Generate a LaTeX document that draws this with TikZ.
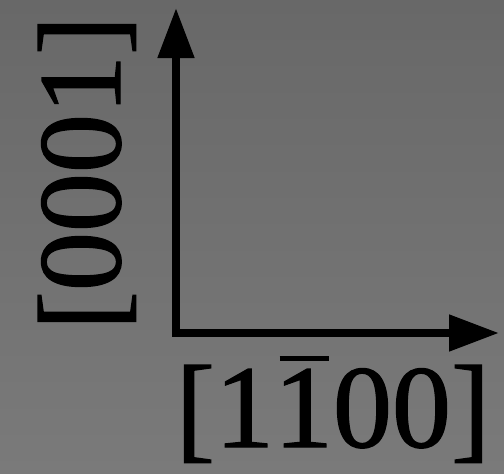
\documentclass[tikz,border=0pt]{standalone}
\usepackage{fontspec}
\newfontfamily\timesf[FakeBold=1.2]{Liberation Serif}
\usetikzlibrary{arrows.meta}
\definecolor{bgtop}{RGB}{104,104,104}
\definecolor{bgbot}{RGB}{122,122,122}
\newcommand\barone{\rlap{\hspace{0.047em}\raisebox{0.73em}{\rule{0.415em}{0.04em}}}1}
\tikzset{
  axis/.style={line width=8pt, black, -{Triangle[length=50pt,width=35pt]}},
  axlabel/.style={font=\timesf\fontsize{118}{120}\selectfont, inner sep=0pt, anchor=base, text=black}
}
\begin{document}
\begin{tikzpicture}[x=1pt,y=1pt]
\useasboundingbox (0,0) rectangle (504,-474);
\shade[top color=bgtop, bottom color=bgbot] (0,0) rectangle (504,-474);
\coordinate (o) at (172,-333);
\coordinate (ytip) at (176,-8);
\coordinate (xtip) at (499,-333);
\draw[axis, line cap=rect] (o -| ytip) -- (ytip);
\draw[axis] (o) -- (xtip);
\node[axlabel, rotate=90] (ylab) at (120,-173) {[0001]};
\node[axlabel] (xlab) at (333,-447) {[1\barone00]};
\end{tikzpicture}
\end{document}
